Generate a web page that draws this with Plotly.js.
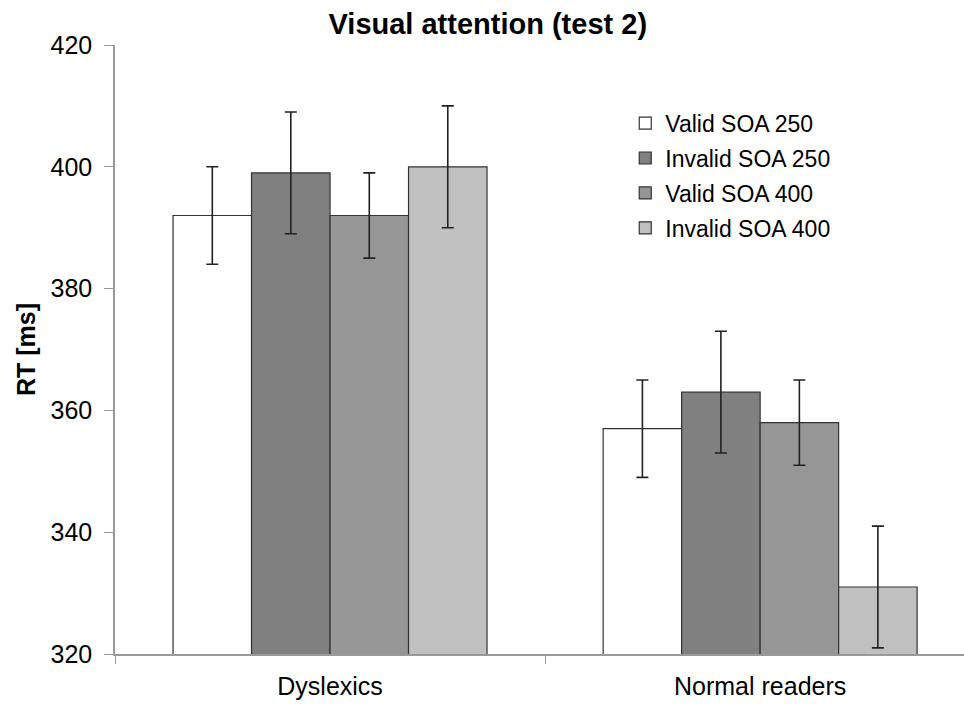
<!DOCTYPE html>
<html>
<head>
<meta charset="utf-8">
<script src="https://cdn.plot.ly/plotly-3.0.1.min.js"></script>
<style>html,body{margin:0;padding:0;background:#fff;}#chart{width:964px;height:704px;}</style>
</head>
<body>
<div id="chart"></div>
<script>
const categories = ["Dyslexics", "Normal readers"];
const seriesNames = ["Valid SOA 250", "Invalid SOA 250", "Valid SOA 400", "Invalid SOA 400"];
const validSOA250 = [392, 357];
const invalidSOA250 = [399, 363];
const validSOA400 = [392, 358];
const invalidSOA400 = [400, 331];
const errValidSOA250 = [8, 8];
const errInvalidSOA250 = [10, 10];
const errValidSOA400 = [7, 7];
const errInvalidSOA400 = [10, 10];
const yTicks = [320, 340, 360, 380, 400, 420];

const values = [validSOA250, invalidSOA250, validSOA400, invalidSOA400];
const errs = [errValidSOA250, errInvalidSOA250, errValidSOA400, errInvalidSOA400];
const colors = ["#ffffff", "#808080", "#969696", "#c0c0c0"];

const traces = seriesNames.map((name, i) => ({
  type: "bar",
  name: name,
  x: categories,
  y: values[i],
  base: 0,
  marker: {color: colors[i], line: {color: "#333333", width: 1.2}},
  error_y: {type: "data", array: errs[i], visible: true, color: "#222222", thickness: 1.6, width: 6},
  legendgroup: "g" + i
}));

const font = "Liberation Sans, Arial, sans-serif";
const layout = {
  width: 964, height: 704,
  margin: {l: 115, r: 0, t: 45, b: 50},
  paper_bgcolor: "#fff", plot_bgcolor: "#fff",
  title: {text: "<b>Visual attention (test 2)</b>", font: {family: font, size: 29, color: "#000"}, x: 0.506, xanchor: "center", y: 0.966, yanchor: "middle"},
  barmode: "group",
  bargap: 0.27,
  bargroupgap: 0,
  showlegend: true,
  legend: {x: 0.601, y: 0.907, xanchor: "left", yanchor: "top", bgcolor: "rgba(0,0,0,0)", font: {family: font, size: 23, color: "#000"}, tracegroupgap: 2, itemwidth: 30},
  xaxis: {
    type: "category", range: [-0.5, 1.474],
    showline: true, linecolor: "#999999", linewidth: 1.5,
    ticks: "outside", tickson: "boundaries", ticklen: 8, tickcolor: "#999999",
    ticklabelstandoff: 9,
    tickfont: {family: font, size: 25, color: "#000"},
    showgrid: false, zeroline: false
  },
  yaxis: {
    range: [320, 420], tickvals: yTicks,
    showline: true, linecolor: "#999999", linewidth: 1.5,
    ticks: "outside", ticklen: 9, tickcolor: "#999999",
    ticklabelstandoff: 7,
    tickfont: {family: font, size: 25, color: "#000"},
    title: {text: "<b>RT [ms]</b>", font: {family: font, size: 25, color: "#000"}, standoff: 8},
    showgrid: false, zeroline: false
  }
};
Plotly.newPlot("chart", traces, layout, {displayModeBar: false});
</script>
</body>
</html>
